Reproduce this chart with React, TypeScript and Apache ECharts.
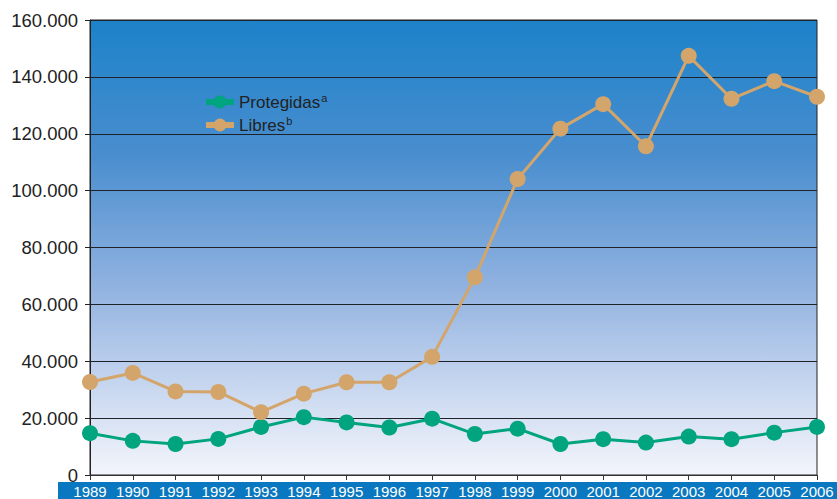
import React, { useEffect, useRef } from "react";
import * as echarts from "echarts";

const years = ["1989","1990","1991","1992","1993","1994","1995","1996","1997","1998","1999","2000","2001","2002","2003","2004","2005","2006"];
const protegidas = [14700,12000,10900,12700,16900,20350,18500,16700,19800,14400,16300,10900,12600,11400,13500,12600,14900,16900];
const libres = [32700,35900,29400,29200,22100,28600,32600,32600,41550,69500,104100,121800,130400,115600,147400,132300,138500,133000];
const yTicks = [0,20000,40000,60000,80000,100000,120000,140000,160000];

const FONT = "'Liberation Sans', Arial, sans-serif";

export default function App() {
  const ref = useRef<HTMLDivElement>(null);
  useEffect(() => {
    const chart = echarts.init(ref.current!, null, { renderer: "svg" });
    chart.setOption({
      animation: false,
      textStyle: { fontFamily: FONT },
      graphic: [
        { type: "rect", left: 58, top: 482, shape: { width: 779, height: 17 }, style: { fill: "#0a78c0" }, z: -1 },
      ],
      grid: {
        left: 90, right: 20, top: 20, bottom: 24,
        show: true,
        borderColor: "#222",
        borderWidth: 1,
        backgroundColor: new echarts.graphic.LinearGradient(0, 0, 0, 1, [
          { offset: 0, color: "#1c82c9" },
          { offset: 0.3, color: "#4a8ecf" },
          { offset: 0.6, color: "#94b4e1" },
          { offset: 0.85, color: "#d2def2" },
          { offset: 1, color: "#f3f5fb" },
        ]),
      },
      legend: {
        left: 198, top: 87, orient: "vertical", itemGap: 3,
        itemWidth: 28, itemHeight: 16,
        lineStyle: { width: 6 },
        itemStyle: { borderWidth: 0 },
        data: ["Protegidas", "Libres"],
        formatter: (n: string) => n === "Protegidas" ? "Protegidas{s|a}" : "Libres{s|b}",
        textStyle: {
          fontFamily: FONT, fontSize: 17, color: "#222", lineHeight: 20,
          rich: { s: { fontSize: 11, verticalAlign: "top", padding: [0, 0, 9, 1], color: "#222", fontFamily: FONT } },
        },
      },
      xAxis: {
        type: "category", data: years, boundaryGap: false,
        axisLine: { show: true, lineStyle: { color: "#333", width: 1 } },
        axisTick: { show: true, length: 5, alignWithLabel: true, lineStyle: { color: "#333" } },
        axisLabel: { color: "#fff", fontSize: 15, margin: 9, fontFamily: FONT, interval: 0, showMaxLabel: true, showMinLabel: true },
        splitLine: { show: false },
      },
      yAxis: {
        type: "value", min: 0, max: 160000, interval: 20000,
        axisLine: { show: true, lineStyle: { color: "#222" } },
        axisTick: { show: true, length: 5, lineStyle: { color: "#222" } },
        axisLabel: {
          color: "#222", fontSize: 18.5, margin: 12, fontFamily: FONT,
          formatter: (v: number) => (yTicks.includes(v) && v !== 0 ? (v / 1000) + ".000" : "0"),
        },
        splitLine: { show: true, lineStyle: { color: "#1f2328", width: 1.2 } },
      },
      series: [
        {
          name: "Protegidas", type: "line", data: protegidas,
          symbol: "circle", symbolSize: 16,
          itemStyle: { color: "#00a47e" },
          lineStyle: { color: "#00a47e", width: 3 },
          z: 3,
        },
        {
          name: "Libres", type: "line", data: libres,
          symbol: "circle", symbolSize: 16,
          itemStyle: { color: "#d4a56b" },
          lineStyle: { color: "#d4a56b", width: 3 },
          z: 4,
        },
      ],
    });
    return () => chart.dispose();
  }, []);
  return <div ref={ref} style={{ width: 837, height: 499, position: "absolute", left: 0, top: 0 }} />;
}
